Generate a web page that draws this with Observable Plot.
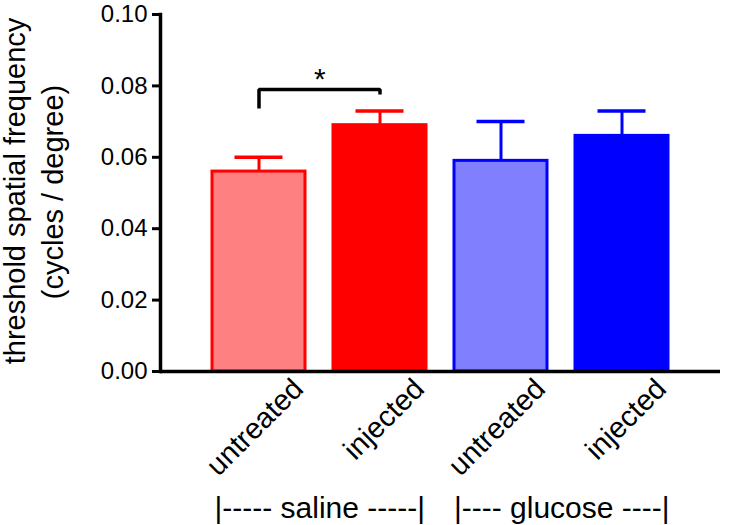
<!DOCTYPE html>
<html><head><meta charset="utf-8">
<script src="https://cdn.jsdelivr.net/npm/d3@7"></script>
<script src="https://cdn.jsdelivr.net/npm/@observablehq/plot@0.6"></script>
<style>body{margin:0;background:#fff}</style>
</head><body><div id="chart"></div>
<script>
const groups = ["saline", "saline", "glucose", "glucose"];
const conditions = ["untreated", "injected", "untreated", "injected"];
const means = [0.056, 0.069, 0.059, 0.066];
const upperErr = [0.060, 0.073, 0.070, 0.073];
const fills = ["#FF8080", "#FF0000", "#8080FF", "#0000FF"];
const strokes = ["#FF0000", "#FF0000", "#0000FF", "#0000FF"];
const yTicks = [0, 0.02, 0.04, 0.06, 0.08, 0.10];
const groupLabels = ["|----- saline -----|", "|---- glucose ----|"];
const groupFirst = ["saline untreated", "glucose untreated"];
const yTitle = ["threshold spatial frequency", "(cycles / degree)"];
const bracketX = ["saline untreated", "saline untreated", "saline injected", "saline injected"];
const bracketY = [0.0737, 0.079, 0.079, 0.0776];
const starLabel = ["*"];
const starY = [0.0792];

const keys = groups.map((g, i) => g + " " + conditions[i]);
const data = keys.map((k, i) => ({key: k, cond: conditions[i], mean: means[i], upper: upperErr[i], fill: fills[i], stroke: strokes[i]}));
const groupData = groupLabels.map((t, i) => ({label: t, key: groupFirst[i]}));
const bracket = bracketX.map((x, i) => ({x, y: bracketY[i]}));
const star = starLabel.map((t, i) => ({t, y: starY[i], key: "saline untreated"}));

const W = 739, H = 525, mL = 160, mR = 19, mT = 14, mB = 154;
const pi = 0.235, po = 0.422;
const step = (W - mL - mR) / (keys.length - pi + 2 * po);

const chart = Plot.plot({
  width: W, height: H,
  marginLeft: mL, marginRight: mR, marginTop: mT, marginBottom: mB,
  style: {fontFamily: "'Liberation Sans', Arial, sans-serif", background: "#fff", color: "#000", overflow: "visible"},
  x: {type: "band", domain: keys, paddingInner: pi, paddingOuter: po, axis: null},
  y: {domain: [0, 0.1], axis: null},
  color: {type: "identity"},
  marks: [
    Plot.barY(data, {x: "key", y: "mean", fill: "fill", stroke: "stroke", strokeWidth: 3}),
    Plot.ruleX(data, {x: "key", y1: "mean", y2: "upper", stroke: "stroke", strokeWidth: 3}),
    Plot.tickY(data, {x: "key", y: "upper", stroke: "stroke", strokeWidth: 3.5, insetLeft: 22.5, insetRight: 22.5}),
    Plot.line(bracket, {x: "x", y: "y", stroke: "#000", strokeWidth: 3.5, strokeLinejoin: "miter", strokeLinecap: "butt"}),
    Plot.text(star, {x: "key", y: "y", text: "t", dx: step / 2, fontSize: 30, lineAnchor: "bottom", textAnchor: "middle"}),
    Plot.frame({anchor: "left", strokeWidth: 3.5}),
    Plot.ruleY([0], {strokeWidth: 3.5}),
    Plot.axisY(yTicks, {tickSize: 8, tickPadding: 5, strokeWidth: 3, fontSize: 24, tickFormat: d3.format(".2f"), label: null}),
    Plot.text(data, {x: "key", frameAnchor: "bottom", text: "cond", rotate: -45, textAnchor: "end", lineAnchor: "bottom", fontSize: 29, dx: 46, dy: 19}),
    Plot.text(groupData, {x: "key", frameAnchor: "bottom", text: "label", fontSize: 30, textAnchor: "middle", lineAnchor: "bottom", dx: step / 2, dy: 146}),
    Plot.text([yTitle[0]], {frameAnchor: "left", text: d => d, rotate: -90, fontSize: 29, textAnchor: "middle", lineAnchor: "bottom", dx: 24 - mL, dy: -2}),
    Plot.text([yTitle[1]], {frameAnchor: "left", text: d => d, rotate: -90, fontSize: 29, textAnchor: "middle", lineAnchor: "bottom", dx: 62 - mL, dy: -1})
  ]
});
document.getElementById("chart").appendChild(chart);
</script></body></html>
